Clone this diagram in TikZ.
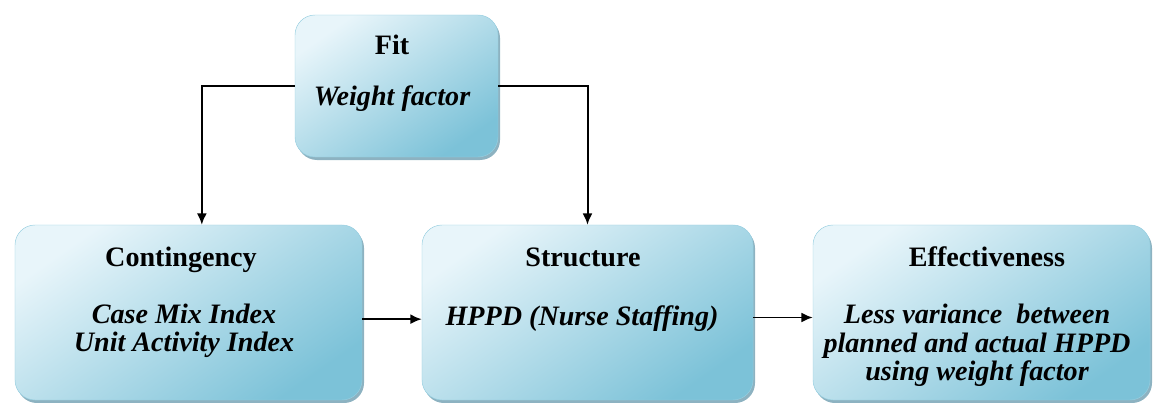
\documentclass[tikz,border=0pt]{standalone}
\usepackage{fontspec}
\setmainfont{Liberation Serif}
\usetikzlibrary{arrows.meta,shadows}

\definecolor{boxpale}{RGB}{232,245,250}
\definecolor{boxdeep}{RGB}{124,194,216}
\definecolor{boxshade}{RGB}{92,146,166}

% stacked lines, baseline on the first one
\newcommand{\blines}[1]{\begin{tabular}[t]{@{}c@{}}#1\end{tabular}}

\begin{document}
\begin{tikzpicture}[
    x = 0.03cm, y = -0.03cm,
    every node/.style = {font = \fontsize{24}{24}\selectfont},
    block/.style = {rounded corners = 0.6cm, draw = boxdeep!80!white, thin,
        top color = boxpale, bottom color = boxdeep, shading angle = 35,
        drop shadow = {shadow xshift = 0.6mm, shadow yshift = -0.9mm,
            fill = boxshade, opacity = 0.7}},
    head/.style = {anchor = base, font = \fontsize{24}{24}\selectfont\bfseries},
    body/.style = {anchor = base, font = \fontsize{24}{24}\selectfont\bfseries\itshape},
    link/.style = {line width = 1.7pt, -{Latex[length=0.34cm, width=0.3cm]}}]

\useasboundingbox (0,0) rectangle (1153,403);

% the four blocks
\node[block, minimum width = 6.09cm, minimum height = 4.26cm] (fit) at (396.5,86) {};
\node[block, minimum width = 10.41cm, minimum height = 5.25cm] (cont) at (188.5,312.5) {};
\node[block, minimum width = 9.93cm, minimum height = 5.25cm] (struct) at (587.5,312.5) {};
\node[block, minimum width = 10.11cm, minimum height = 5.25cm] (eff) at (981.5,312.5) {};

% texts
\node[head] (fitH) at (392,55) {Fit};
\node[body] (fitB) at (392,106) {Weight factor};
\node[head] (contH) at (181,267) {Contingency};
\node[body] (contB) at (184,323) {\blines{Case Mix Index\\Unit Activity Index}};
\node[head] (structH) at (583,267) {Structure};
\node[body] (structB) at (582,325) {HPPD (Nurse Staffing)};
\node[head] (effH) at (987,267) {Effectiveness};
\node[body] (effB) at (977,324) {\blines{Less variance\ \ between\\planned and actual HPPD\\using weight factor}};

% connectors
\draw[link] (fit.west) -| ([xshift=0.4cm]cont.north);
\draw[link] (fit.east) -| (struct.north);
\draw[link] ([yshift=-0.2cm]cont.east) -- ([yshift=-0.2cm]struct.west);
\draw[link] ([yshift=-0.15cm]struct.east) -- ([yshift=-0.15cm]eff.west);
\end{tikzpicture}
\end{document}
